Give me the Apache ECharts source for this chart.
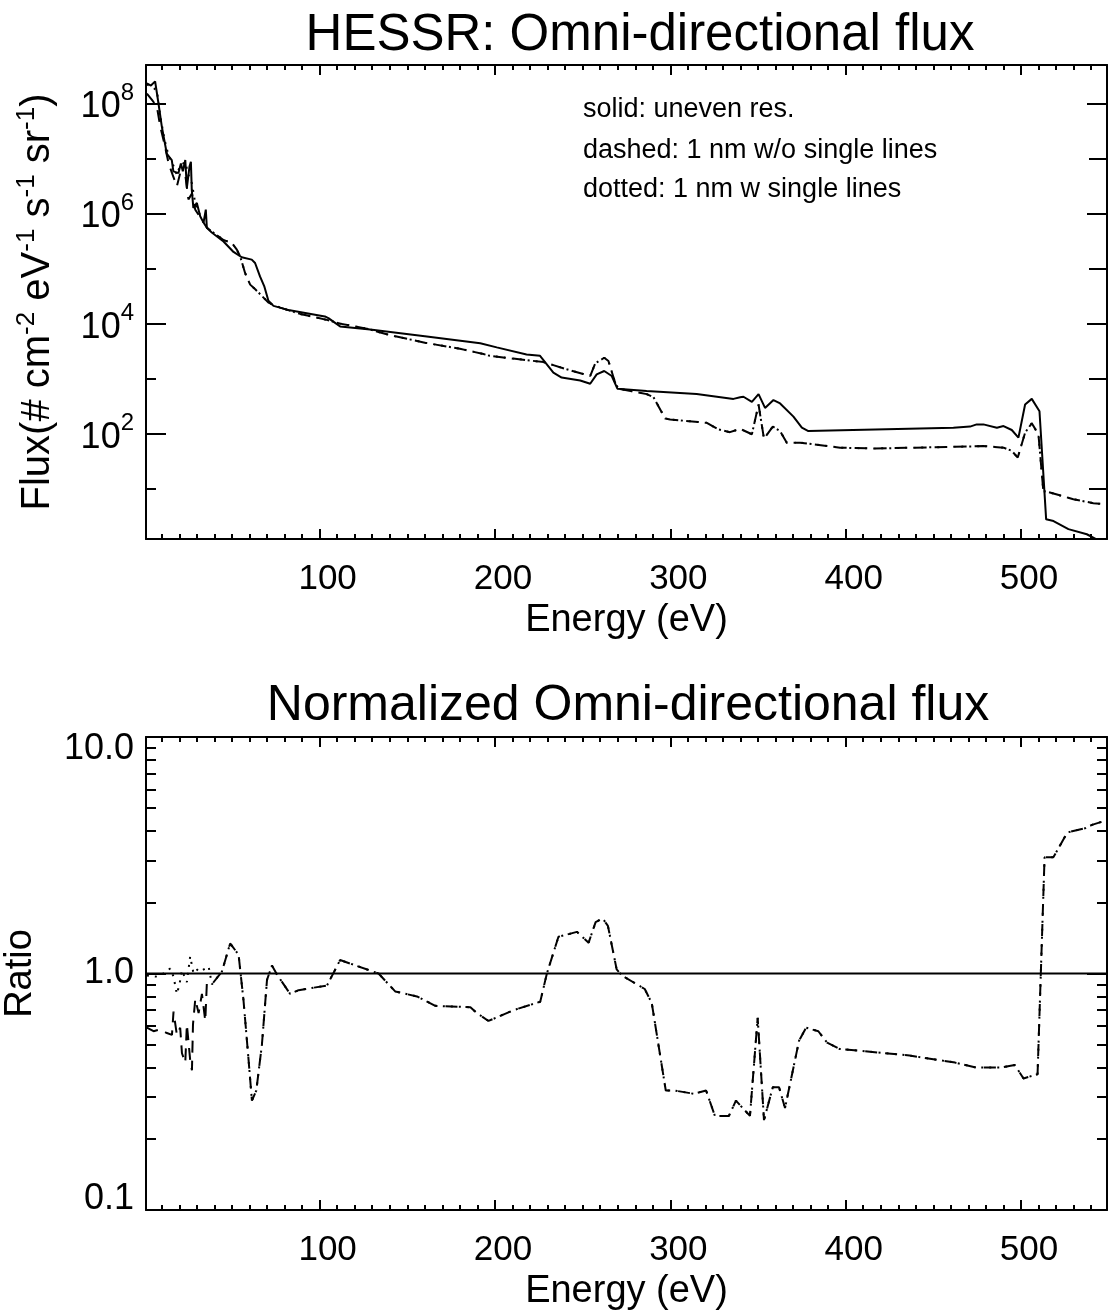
<!DOCTYPE html>
<html><head><meta charset="utf-8">
<script src="https://cdn.jsdelivr.net/npm/echarts@6/dist/echarts.min.js"></script>
<style>html,body{margin:0;padding:0;background:#fff}#c{width:1110px;height:1315px}</style>
</head><body><div id="c"></div>
<script>
// ---------- data ----------
// Top panel: omni-directional flux, #/cm2/eV/s/sr
const solidE = [1.5, 3.8, 6.2, 8.1, 10, 12.9, 15.7, 16.6, 19.5, 20.9, 22, 23.4, 24.3, 25.8, 26.6, 27.1, 28, 30, 31.9, 33.8, 35.1, 35.7, 38.5, 45.2, 50.9, 55.6, 61.3, 63.2, 66, 68.4, 70.8, 73.7, 83, 103, 105, 111.7, 128.8, 160, 191.6, 201, 218, 225.7, 233.3, 238, 248.6, 254.3, 258, 262.3, 266.6, 269.8, 286.5, 315, 336, 339.8, 341.7, 346.5, 350.3, 354, 358.8, 362.6, 370.2, 375, 378.7, 461.4, 470.9, 474.7, 478.5, 486.2, 490, 494.7, 498.5, 502.3, 506.1, 510.5, 514.3, 518.5, 527, 537.5, 545];
const solidF = [2.3e8, 2.1e8, 2.5e8, 1.0e8, 3.8e7, 1.2e7, 9.3e6, 5.8e6, 5.4e6, 8.1e6, 5.8e6, 9.3e6, 2.9e6, 7.1e6, 8.7e6, 2.7e6, 1.26e6, 1.55e6, 8.9e5, 6.8e5, 1.17e6, 5.5e5, 4.5e5, 3.1e5, 2.0e5, 1.6e5, 1.45e5, 1.26e5, 7.2e4, 4.8e4, 2.6e4, 2.1e4, 1.74e4, 1.35e4, 1.26e4, 8.9e3, 7.8e3, 5.9e3, 4.4e3, 3.7e3, 2.75e3, 2.6e3, 1.29e3, 1.05e3, 930, 810, 1.2e3, 1.38e3, 1.12e3, 660, 600, 525, 430, 460, 470, 380, 525, 295, 410, 355, 205, 129, 112, 129, 135, 148, 148, 129, 138, 117, 85, 340, 430, 257, 2.8, 2.6, 1.86, 1.5, 1.12];

const dashedE = [1.5, 4.4, 7.2, 9.1, 11.4, 13.9, 16.2, 18.6, 20.5, 23.4, 25.2, 27.2, 29.1, 35.7, 45.2, 50, 52.8, 54.7, 57.5, 60.4, 63.3, 67, 70.8, 77.5, 88.9, 104, 111.7, 126.9, 140, 160, 180, 193.4, 197, 227.7, 241, 254.3, 257.2, 262.3, 264.7, 268.5, 270.4, 286.5, 290.4, 297, 299.9, 320.8, 327.4, 334, 339.8, 346.5, 350.3, 353.4, 358.4, 362.6, 366.4, 374, 396.8, 415.9, 472.9, 478.5, 490, 494.7, 498.1, 502.3, 506.1, 509.9, 512.7, 514.6, 529.8, 541.2, 548.8];
const dashedF = [1.5e8, 1.15e8, 8.7e7, 3.8e7, 1.9e7, 8.1e6, 5.0e6, 3.1e6, 5.4e6, 5.0e6, 1.8e6, 2.3e6, 1.17e6, 5.5e5, 3.3e5, 2.9e5, 2.2e5, 1.66e5, 8.3e4, 5.1e4, 4.2e4, 3.2e4, 2.4e4, 1.95e4, 1.5e4, 1.17e4, 1.0e4, 8.1e3, 6.2e3, 4.5e3, 3.5e3, 2.8e3, 2.6e3, 2.0e3, 1.48e3, 1.12e3, 1.9e3, 2.4e3, 2.1e3, 850, 660, 525, 460, 190, 182, 158, 120, 107, 123, 98, 340, 81, 135, 112, 69, 69, 56, 54, 59, 60, 56, 49, 37, 105, 155, 98, 9.1, 8.9, 6.5, 5.5, 5.2];

const dottedE = [1.5, 4.4, 7.2, 9.1, 11.4, 13.9, 16.2, 18.6, 20.5, 23.4, 25.2, 27.2, 29.1, 32, 35.7, 45.2, 50, 52.8, 54.7, 57.5, 60.4, 63.3, 67, 70.8, 77.5, 88.9, 104, 111.7, 126.9, 140, 160, 180, 193.4, 197, 227.7, 241, 254.3, 257.2, 262.3, 264.7, 268.5, 270.4, 286.5, 290.4, 297, 299.9, 320.8, 327.4, 334, 339.8, 346.5, 350.3, 353.4, 358.4, 362.6, 366.4, 374, 396.8, 415.9, 472.9, 478.5, 490, 494.7, 498.1, 502.3, 506.1, 509.9, 512.7, 514.6, 529.8, 541.2, 548.8];
const dottedF = [2.2e8, 2.0e8, 1.7e8, 6.0e7, 2.3e7, 1.1e7, 8.0e6, 5.0e6, 7.5e6, 8.5e6, 5.0e6, 3.5e6, 1.5e6, 9.0e5, 5.5e5, 3.3e5, 2.9e5, 2.2e5, 1.66e5, 8.3e4, 5.1e4, 4.2e4, 3.2e4, 2.4e4, 1.95e4, 1.5e4, 1.17e4, 1.0e4, 8.1e3, 6.2e3, 4.5e3, 3.5e3, 2.8e3, 2.6e3, 2.0e3, 1.48e3, 1.12e3, 1.9e3, 2.4e3, 2.1e3, 850, 660, 525, 460, 190, 182, 158, 120, 107, 123, 98, 340, 81, 135, 112, 69, 69, 56, 54, 59, 60, 56, 49, 37, 105, 155, 98, 9.1, 8.9, 6.5, 5.5, 5.2];

// Bottom panel: ratios (normalized to the solid curve)
const ratioSolidE = [1, 549];
const ratioSolid = [1, 1];
const ratioDashedE = [1.5, 5.3, 9.1, 12.9, 15.8, 16.7, 18.6, 20.5, 21.5, 23.4, 24.3, 26.2, 27.2, 27.8, 29.1, 31, 32.9, 34.8, 35.7, 38.6, 44.3, 49, 53.8, 56.6, 59.5, 61.4, 63.9, 67.1, 70, 72.8, 75.7, 83.2, 88, 104.2, 111.7, 133.6, 143.1, 155.5, 166, 186, 189.7, 196.3, 210.6, 225.8, 229.6, 236.2, 241, 246.7, 253.4, 257.4, 261.4, 264.4, 269.4, 272.4, 285.4, 289.4, 297.4, 302.4, 313.4, 320.4, 325.4, 333.4, 337.4, 345.4, 349.8, 353.4, 358.4, 362, 365.4, 373.4, 377.4, 384.4, 389.4, 396.4, 436.4, 462.4, 474.4, 488.4, 496.4, 501.4, 509.4, 513.4, 518.4, 526.4, 536.4, 540.4, 549];
const ratioDashed = [0.59, 0.57, 0.58, 0.56, 0.55, 0.69, 0.55, 0.59, 0.46, 0.42, 0.61, 0.43, 0.39, 0.61, 0.78, 0.68, 0.82, 0.63, 0.91, 0.9, 1.02, 1.34, 1.2, 0.77, 0.43, 0.29, 0.32, 0.5, 0.94, 1.08, 0.99, 0.82, 0.85, 0.89, 1.14, 1.0, 0.84, 0.8, 0.73, 0.72, 0.68, 0.63, 0.7, 0.76, 1.0, 1.43, 1.46, 1.5, 1.35, 1.65, 1.71, 1.59, 1.04, 0.98, 0.86, 0.75, 0.32, 0.32, 0.31, 0.32, 0.25, 0.25, 0.29, 0.25, 0.65, 0.24, 0.33, 0.33, 0.27, 0.52, 0.59, 0.57, 0.51, 0.48, 0.45, 0.42, 0.4, 0.4, 0.41, 0.36, 0.375, 3.1, 3.1, 3.95, 4.11, 4.25, 4.45];
const ratioDottedE = [1.5, 7.2, 11, 14.8, 16.7, 18.6, 20.1, 21.5, 24.3, 26.2, 28.1, 31, 32.9, 36.7, 38.6, 44.3, 49, 53.8, 56.6, 59.5, 61.4, 63.9, 67.1, 70, 72.8, 75.7, 83.2, 88, 104.2, 111.7, 133.6, 143.1, 155.5, 166, 186, 189.7, 196.3, 210.6, 225.8, 229.6, 236.2, 241, 246.7, 253.4, 257.4, 261.4, 264.4, 269.4, 272.4, 285.4, 289.4, 297.4, 302.4, 313.4, 320.4, 325.4, 333.4, 337.4, 345.4, 349.8, 353.4, 358.4, 362, 365.4, 373.4, 377.4, 384.4, 389.4, 396.4, 436.4, 462.4, 474.4, 488.4, 496.4, 501.4, 509.4, 513.4, 518.4, 526.4, 536.4, 540.4, 549];
const ratioDotted = [0.98, 0.97, 1.0, 1.05, 0.97, 0.82, 0.9, 1.03, 0.92, 1.18, 1.0, 1.05, 1.03, 1.07, 0.9, 1.02, 1.34, 1.2, 0.77, 0.43, 0.29, 0.32, 0.5, 0.94, 1.08, 0.99, 0.82, 0.85, 0.89, 1.14, 1.0, 0.84, 0.8, 0.73, 0.72, 0.68, 0.63, 0.7, 0.76, 1.0, 1.43, 1.46, 1.5, 1.35, 1.65, 1.71, 1.59, 1.04, 0.98, 0.86, 0.75, 0.32, 0.32, 0.31, 0.32, 0.25, 0.25, 0.29, 0.25, 0.65, 0.24, 0.33, 0.33, 0.27, 0.52, 0.59, 0.57, 0.51, 0.48, 0.45, 0.42, 0.4, 0.4, 0.41, 0.36, 0.375, 3.1, 3.1, 3.95, 4.11, 4.25, 4.45];

// Axis ranges and ticks
const energyRange = [1, 549];
const fluxRange = [1.23, 4.95e8];
const ratioRange = [0.1, 10];
const energyMajorTicks = [100, 200, 300, 400, 500];
const energyMinorTicks = [10, 20, 30, 40, 50, 60, 70, 80, 90, 110, 120, 130, 140, 150, 160, 170, 180, 190, 210, 220, 230, 240, 250, 260, 270, 280, 290, 310, 320, 330, 340, 350, 360, 370, 380, 390, 410, 420, 430, 440, 450, 460, 470, 480, 490, 510, 520, 530, 540];
const fluxMajorTicks = [1e2, 1e4, 1e6, 1e8];
const fluxMinorTicks = [1e1, 1e3, 1e5, 1e7];
const ratioMajorTicks = [0.1, 1, 10];
const ratioMinorTicks = [0.2, 0.3, 0.4, 0.5, 0.6, 0.7, 0.8, 0.9, 2, 3, 4, 5, 6, 7, 8, 9];

const titles = ['HESSR: Omni-directional flux', 'Normalized Omni-directional flux'];
const legendLines = ['solid: uneven res.', 'dashed: 1 nm w/o single lines', 'dotted: 1 nm w single lines'];

// ---------- chart ----------
const FONT = 'Liberation Sans, Arial, Helvetica, sans-serif';
const BLACK = '#000';
const zip = (xs, ys) => xs.map((x, i) => [x, ys[i]]);

function xAxes(grid, withName) {
  const base = {
    type: 'value', gridIndex: grid, min: energyRange[0], max: energyRange[1],
    splitLine: { show: false }, minorTick: { show: false }
  };
  return [
    Object.assign({}, base, {
      position: 'bottom',
      axisLine: { show: true, lineStyle: { color: BLACK, width: 2 } },
      axisTick: { show: true, inside: true, length: 10, customValues: energyMajorTicks, lineStyle: { color: BLACK, width: 2 } },
      axisLabel: { show: true, customValues: energyMajorTicks, color: BLACK, fontSize: 35, fontFamily: FONT, margin: 23, padding: [0, 0, 0, 16] },
      name: withName ? 'Energy (eV)' : '', nameLocation: 'middle', nameGap: 63,
      nameTextStyle: { color: BLACK, fontSize: 38, fontFamily: FONT }
    }),
    Object.assign({}, base, {
      position: 'bottom',
      axisLine: { show: false },
      axisTick: { show: true, inside: true, length: 5, customValues: energyMinorTicks, lineStyle: { color: BLACK, width: 2 } },
      axisLabel: { show: false }
    }),
    Object.assign({}, base, {
      position: 'top',
      axisLine: { show: true, lineStyle: { color: BLACK, width: 2 } },
      axisTick: { show: true, inside: true, length: 10, customValues: energyMajorTicks, lineStyle: { color: BLACK, width: 2 } },
      axisLabel: { show: false }
    }),
    Object.assign({}, base, {
      position: 'top',
      axisLine: { show: false },
      axisTick: { show: true, inside: true, length: 5, customValues: energyMinorTicks, lineStyle: { color: BLACK, width: 2 } },
      axisLabel: { show: false }
    })
  ];
}

function yAxes(grid, range, major, minor, labelCfg, nameCfg, rightMinorLen) {
  const base = {
    type: 'log', logBase: 10, gridIndex: grid, min: range[0], max: range[1],
    splitLine: { show: false }, minorTick: { show: false }
  };
  return [
    Object.assign({}, base, {
      position: 'left',
      axisLine: { show: true, lineStyle: { color: BLACK, width: 2 } },
      axisTick: { show: true, inside: true, length: 20, customValues: major, lineStyle: { color: BLACK, width: 2 } },
      axisLabel: Object.assign({ show: true, customValues: major, color: BLACK, fontFamily: FONT, margin: 12 }, labelCfg)
    }, nameCfg),
    Object.assign({}, base, {
      position: 'left',
      axisLine: { show: false },
      axisTick: { show: true, inside: true, length: 10, customValues: minor, lineStyle: { color: BLACK, width: 2 } },
      axisLabel: { show: false }
    }),
    Object.assign({}, base, {
      position: 'right',
      axisLine: { show: true, lineStyle: { color: BLACK, width: 2 } },
      axisTick: { show: true, inside: true, length: 20, customValues: major, lineStyle: { color: BLACK, width: 2 } },
      axisLabel: { show: false }
    }),
    Object.assign({}, base, {
      position: 'right',
      axisLine: { show: false },
      axisTick: { show: true, inside: true, length: rightMinorLen, customValues: minor, lineStyle: { color: BLACK, width: 2 } },
      axisLabel: { show: false }
    })
  ];
}

const fluxLabel = {
  fontSize: 36,
  formatter: function (v) { return '{b|10}{s|' + Math.round(Math.log10(v)) + '}'; },
  rich: {
    b: { fontSize: 36, fontFamily: FONT, color: BLACK, lineHeight: 44, verticalAlign: 'bottom' },
    s: { fontSize: 24, fontFamily: FONT, color: BLACK, lineHeight: 44, verticalAlign: 'top' }
  }
};
const fluxName = {
  name: 'Flux(# cm{s|-2} eV{s|-1} s{s|-1} sr{s|-1})',
  nameLocation: 'middle', nameRotate: 90, nameGap: 84,
  nameTextStyle: {
    fontSize: 40, fontFamily: FONT, color: BLACK,
    rich: {
      s: { fontSize: 26, fontFamily: FONT, color: BLACK, verticalAlign: 'top', lineHeight: 48 }
    }
  }
};
const ratioLabel = {
  fontSize: 36,
  formatter: function (v) {
    const t = Number(v).toFixed(1);
    if (v >= 10) return '{hi|' + t + '}';
    if (v <= 0.1) return '{lo|' + t + '}';
    return t;
  },
  rich: {
    hi: { fontSize: 36, fontFamily: FONT, color: BLACK, padding: [24, 0, 0, 0] },
    lo: { fontSize: 36, fontFamily: FONT, color: BLACK, padding: [0, 0, 22, 0] }
  }
};
const ratioName = {
  name: 'Ratio', nameLocation: 'middle', nameRotate: 90, nameGap: 106,
  nameTextStyle: { fontSize: 38, fontFamily: FONT, color: BLACK }
};

function line(name, xs, ys, xi, yi, type, z) {
  return {
    name: name, type: 'line', xAxisIndex: xi, yAxisIndex: yi,
    data: zip(xs, ys), showSymbol: false, symbol: 'none', clip: true,
    lineStyle: { color: BLACK, width: 2, type: type, cap: 'butt' }, z: z,
    emphasis: { disabled: true }, silent: true
  };
}

const chart = echarts.init(document.getElementById('c'), null, { renderer: 'canvas' });
chart.setOption({
  backgroundColor: '#fff',
  animation: false,
  grid: [
    { left: 146, right: 3, top: 65, height: 474, containLabel: false, outerBoundsMode: 'none' },
    { left: 146, right: 3, top: 737, height: 473, containLabel: false, outerBoundsMode: 'none' }
  ],
  xAxis: xAxes(0, true).concat(xAxes(1, true)),
  yAxis: yAxes(0, fluxRange, fluxMajorTicks, fluxMinorTicks, fluxLabel, fluxName, 18)
    .concat(yAxes(1, ratioRange, ratioMajorTicks, ratioMinorTicks, ratioLabel, ratioName, 10)),
  series: [
    line('solid: uneven res.', solidE, solidF, 0, 0, 'solid', 3),
    line('dashed: 1 nm w/o single lines', dashedE, dashedF, 0, 0, [12, 8], 2),
    line('dotted: 1 nm w single lines', dottedE, dottedF, 0, 0, [2, 6], 2),
    line('ratio solid', ratioSolidE, ratioSolid, 4, 4, 'solid', 3),
    line('ratio dashed', ratioDashedE, ratioDashed, 4, 4, [12, 8], 2),
    line('ratio dotted', ratioDottedE, ratioDotted, 4, 4, [2, 6], 2)
  ],
  graphic: [
    { type: 'text', x: 640, y: 36, style: { text: titles[0], fill: BLACK, font: '51px ' + FONT, textAlign: 'center', textVerticalAlign: 'middle' } },
    { type: 'text', x: 628, y: 706, style: { text: titles[1], fill: BLACK, font: '50px ' + FONT, textAlign: 'center', textVerticalAlign: 'middle' } },
    { type: 'text', x: 583, y: 110, style: { text: legendLines[0], fill: BLACK, font: '27px ' + FONT, textAlign: 'left', textVerticalAlign: 'middle' } },
    { type: 'text', x: 583, y: 151, style: { text: legendLines[1], fill: BLACK, font: '27px ' + FONT, textAlign: 'left', textVerticalAlign: 'middle' } },
    { type: 'text', x: 583, y: 190, style: { text: legendLines[2], fill: BLACK, font: '27px ' + FONT, textAlign: 'left', textVerticalAlign: 'middle' } }
  ]
});
</script>
</body></html>
